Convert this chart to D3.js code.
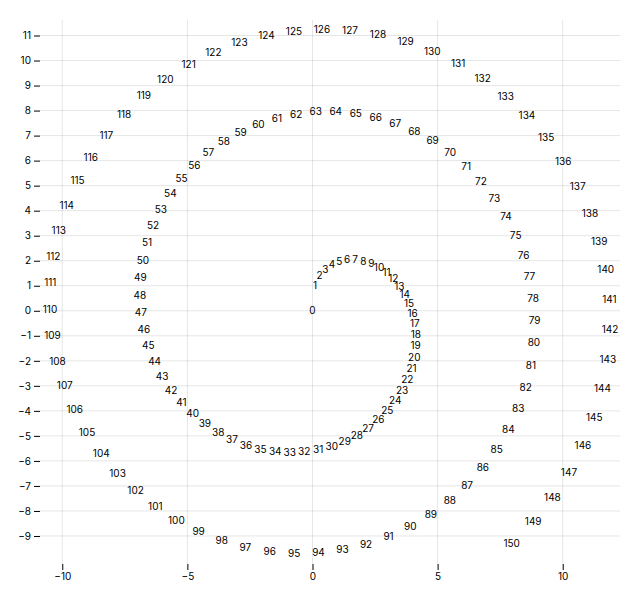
<!DOCTYPE html>
<html>
<head>
<meta charset="utf-8">
<script src="https://cdn.jsdelivr.net/npm/d3@7"></script>
<style>
  body { margin: 0; background: #fff; }
  svg { display: block; font-family: Inter, "Noto Sans", sans-serif; font-size: 10px; }
</style>
</head>
<body>
<svg id="chart" width="640" height="594"></svg>
<script>
// labels drawn at each point
const labels = [0,1,2,3,4,5,6,7,8,9,10,11,12,13,14,15,16,17,18,19,20,21,22,23,24,25,26,27,28,29,
  30,31,32,33,34,35,36,37,38,39,40,41,42,43,44,45,46,47,48,49,50,51,52,53,54,55,56,57,58,59,
  60,61,62,63,64,65,66,67,68,69,70,71,72,73,74,75,76,77,78,79,80,81,82,83,84,85,86,87,88,89,
  90,91,92,93,94,95,96,97,98,99,100,101,102,103,104,105,106,107,108,109,110,111,112,113,114,
  115,116,117,118,119,120,121,122,123,124,125,126,127,128,129,130,131,132,133,134,135,136,137,
  138,139,140,141,142,143,144,145,146,147,148,149,150];

// x positions
const xValues = [0,0.10,0.28,0.51,0.78,1.07,1.38,1.70,2.03,2.35,2.66,2.96,3.23,3.47,3.69,3.86,
  4.00,4.09,4.13,4.12,4.07,3.96,3.79,3.58,3.31,2.99,2.63,2.22,1.77,1.29,0.77,0.23,-0.33,-0.91,
  -1.49,-2.08,-2.66,-3.22,-3.77,-4.30,-4.79,-5.24,-5.65,-6.01,-6.31,-6.56,-6.74,-6.86,-6.90,
  -6.88,-6.78,-6.61,-6.37,-6.06,-5.68,-5.23,-4.72,-4.16,-3.54,-2.87,-2.16,-1.42,-0.65,0.13,
  0.93,1.73,2.53,3.31,4.07,4.80,5.50,6.14,6.73,7.27,7.73,8.12,8.44,8.67,8.82,8.88,8.85,8.73,
  8.52,8.22,7.83,7.36,6.81,6.18,5.49,4.73,3.91,3.04,2.14,1.20,0.24,-0.73,-1.71,-2.68,-3.63,
  -4.55,-5.44,-6.28,-7.07,-7.79,-8.44,-9.01,-9.50,-9.90,-10.19,-10.39,-10.49,-10.48,-10.36,
  -10.14,-9.82,-9.39,-8.86,-8.24,-7.53,-6.74,-5.88,-4.95,-3.96,-2.92,-1.84,-0.74,0.38,1.50,
  2.62,3.72,4.79,5.82,6.80,7.72,8.57,9.34,10.02,10.60,11.09,11.46,11.72,11.87,11.89,11.80,
  11.59,11.26,10.81,10.25,9.59,8.82,7.96];

// y positions
const yValues = [0,0.99,1.39,1.65,1.84,1.96,2.02,2.02,1.97,1.86,1.71,1.50,1.26,0.96,0.64,0.27,
  -0.12,-0.53,-0.96,-1.41,-1.86,-2.31,-2.76,-3.20,-3.61,-4.01,-4.37,-4.70,-4.99,-5.23,-5.42,
  -5.56,-5.65,-5.67,-5.64,-5.54,-5.38,-5.16,-4.88,-4.53,-4.13,-3.68,-3.18,-2.63,-2.04,-1.41,
  -0.76,-0.08,0.61,1.31,2.01,2.70,3.38,4.04,4.66,5.26,5.80,6.30,6.74,7.12,7.44,7.68,7.85,7.94,
  7.95,7.87,7.72,7.48,7.17,6.78,6.31,5.77,5.16,4.49,3.77,3.00,2.19,1.35,0.48,-0.41,-1.30,-2.19,
  -3.07,-3.93,-4.76,-5.55,-6.29,-6.98,-7.61,-8.16,-8.64,-9.04,-9.35,-9.57,-9.69,-9.72,-9.65,
  -9.48,-9.21,-8.85,-8.39,-7.84,-7.21,-6.50,-5.72,-4.87,-3.97,-3.01,-2.02,-1.00,0.05,1.10,
  2.15,3.19,4.20,5.18,6.12,7.00,7.83,8.58,9.24,9.83,10.31,10.70,10.98,11.16,11.22,11.17,11.01,
  10.73,10.35,9.85,9.26,8.57,7.78,6.91,5.97,4.96,3.89,2.77,1.62,0.44,-0.75,-1.94,-3.12,-4.27,
  -5.40,-6.47,-7.49,-8.43,-9.30];

const xTicks = [-10, -5, 0, 5, 10];
const yTicks = [-9, -8, -7, -6, -5, -4, -3, -2, -1, 0, 1, 2, 3, 4, 5, 6, 7, 8, 9, 10, 11];

const points = labels.map((d, i) => ({"label": d, "x": xValues[i], "y": yValues[i]}));

const svg = d3.select("#chart");
const margin = {top: 20, right: 20, bottom: 30, left: 40};
const inset = 10;
const width = +svg.attr("width");
const height = +svg.attr("height");

// scales
const x = d3.scaleLinear()
    .domain(d3.extent(xValues))
    .range([margin.left + inset, width - margin.right - inset]);

const y = d3.scaleLinear()
    .domain(d3.extent(yValues))
    .range([height - margin.bottom - inset, margin.top + inset]);

addGrid(svg, x, y);
addAxes(svg, x, y);

// labels
svg.append("g")
    .attr("class", "labels")
    .attr("text-anchor", "middle")
    .selectAll("text")
    .data(points)
    .enter().append("text")
        .attr("x", d => x(d.x))
        .attr("y", d => y(d.y))
        .attr("dy", "0.32em")
        .attr("fill", "#000")
        .text(d => d.label);

function addGrid(svg, x, y) {
    const grid = svg.append("g")
        .attr("class", "grid")
        .attr("stroke", "#000")
        .attr("stroke-opacity", 0.1);

    grid.selectAll(".vline")
        .data(xTicks)
        .enter().append("line")
            .attr("class", "vline")
            .attr("x1", d => x(d))
            .attr("x2", d => x(d))
            .attr("y1", margin.top)
            .attr("y2", height - margin.bottom);

    grid.selectAll(".hline")
        .data(yTicks)
        .enter().append("line")
            .attr("class", "hline")
            .attr("x1", margin.left)
            .attr("x2", width - margin.right)
            .attr("y1", d => y(d))
            .attr("y2", d => y(d));
}

function addAxes(svg, x, y) {
    const xAxis = svg.append("g")
        .attr("class", "xAxis")
        .attr("transform", "translate(0," + (height - margin.bottom) + ")")
        .call(d3.axisBottom(x).tickValues(xTicks).tickSize(6).tickPadding(3));

    const yAxis = svg.append("g")
        .attr("class", "yAxis")
        .attr("transform", "translate(" + margin.left + ",0)")
        .call(d3.axisLeft(y).tickValues(yTicks).tickSize(6).tickPadding(3));

    [xAxis, yAxis].forEach(g => {
        g.select(".domain").remove();
        g.attr("font-family", null).attr("font-size", null);
    });
}
</script>
</body>
</html>
